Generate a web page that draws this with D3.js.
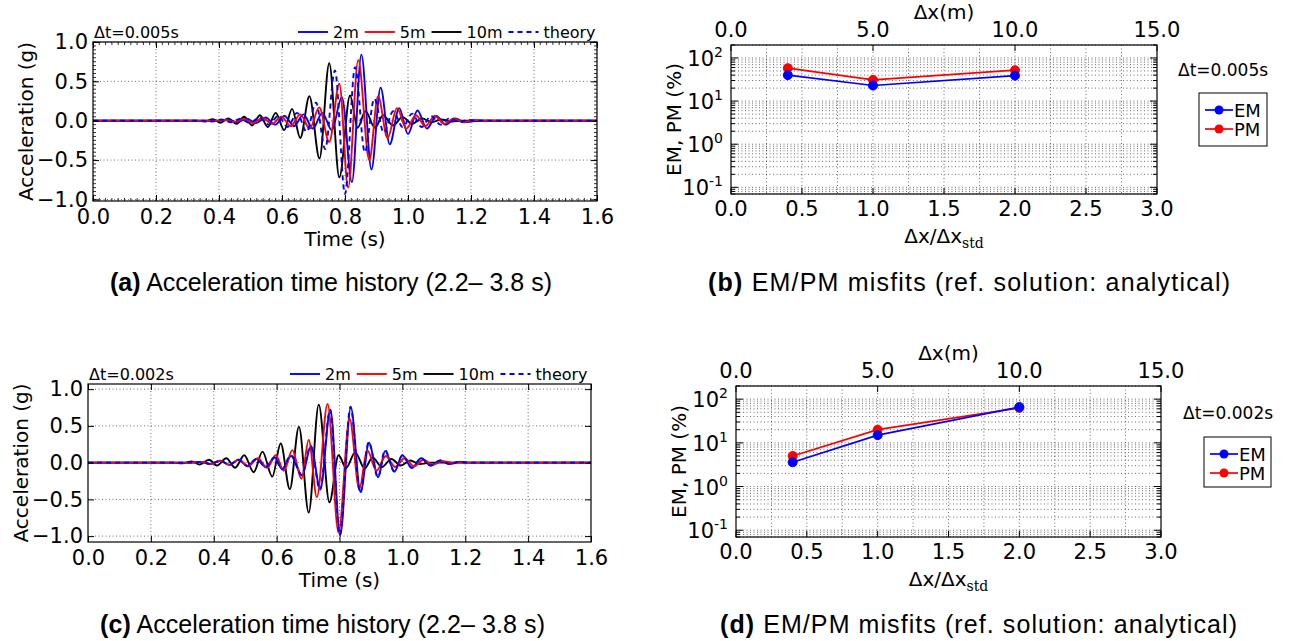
<!DOCTYPE html>
<html><head><meta charset="utf-8">
<script src="https://cdn.jsdelivr.net/npm/d3@7"></script>
<style>
body{margin:0;background:#fff;}
svg{display:block;}
text{font-family:"DejaVu Sans",sans-serif;fill:#000;}
</style></head><body>
<svg id="fig" width="1296" height="641"></svg>
<script>
// ---------------- DATA ----------------
const timeTicks = [0.0,0.2,0.4,0.6,0.8,1.0,1.2,1.4,1.6];
const accTicks = [-1.0,-0.5,0.0,0.5,1.0];
const seriesNames = ["2m","5m","10m","theory"];
const ratioTicks = [0.0,0.5,1.0,1.5,2.0,2.5,3.0];
const dxTicks = [0.0,5.0,10.0,15.0];
const logTicks = [0.1,1,10,100];
const dxRatio = [0.4,1.0,2.0];

// (a) dt = 0.005 s : [time (s), acceleration (g)] extrema
const a2m = [[0,0],[0.40,0],[0.428,0.015],[0.458,-0.02],[0.488,0.025],[0.518,-0.03],[0.548,0.04],[0.578,-0.05],[0.608,0.06],[0.638,-0.07],[0.668,0.08],[0.698,-0.1],[0.728,0.1],[0.758,-0.12],[0.79,0.3],[0.822,-0.78],[0.852,0.84],[0.884,-0.62],[0.913,0.42],[0.942,-0.3],[0.972,0.16],[1.0,-0.17],[1.03,0.13],[1.06,-0.1],[1.09,0.06],[1.12,-0.05],[1.15,0.03],[1.18,-0.02],[1.22,0],[1.6,0]];
const a5m = [[0,0],[0.39,0],[0.418,0.01],[0.448,-0.015],[0.478,0.02],[0.508,-0.03],[0.538,0.035],[0.568,-0.04],[0.598,0.05],[0.628,-0.07],[0.658,0.08],[0.688,-0.1],[0.718,0.17],[0.75,-0.27],[0.782,0.47],[0.81,-0.85],[0.842,0.77],[0.877,-0.5],[0.905,0.31],[0.935,-0.22],[0.965,0.16],[0.995,-0.1],[1.025,0.07],[1.055,-0.07],[1.085,0.06],[1.115,-0.04],[1.145,0.03],[1.175,-0.02],[1.205,0.01],[1.24,0],[1.6,0]];
const a10m = [[0,0],[0.33,0],[0.355,-0.01],[0.38,0.02],[0.405,-0.025],[0.43,0.03],[0.455,-0.04],[0.48,0.05],[0.505,-0.06],[0.53,0.07],[0.555,-0.08],[0.58,0.1],[0.607,-0.12],[0.632,0.15],[0.658,-0.22],[0.687,0.31],[0.719,-0.48],[0.75,0.73],[0.782,-0.72],[0.816,0.32],[0.84,-0.09],[0.865,0.12],[0.895,-0.09],[0.921,0.07],[0.952,-0.06],[0.983,0.045],[1.013,-0.04],[1.045,0.03],[1.075,-0.02],[1.105,0.015],[1.14,-0.01],[1.17,0],[1.6,0]];
const aTheory = [[0,0],[0.35,0],[0.378,-0.01],[0.408,0.015],[0.438,-0.02],[0.468,0.025],[0.498,-0.03],[0.528,0.04],[0.558,-0.05],[0.588,0.06],[0.618,-0.08],[0.648,0.1],[0.678,-0.14],[0.708,0.23],[0.737,-0.36],[0.768,0.64],[0.8,-0.93],[0.832,0.68],[0.863,-0.4],[0.893,0.28],[0.923,-0.15],[0.953,0.12],[0.983,-0.08],[1.013,0.09],[1.043,-0.08],[1.073,0.06],[1.103,-0.05],[1.133,0.035],[1.163,-0.02],[1.19,0.01],[1.22,0],[1.6,0]];

// (c) dt = 0.002 s
const c2m = [[0,0],[0.33,0],[0.36,0.01],[0.39,-0.02],[0.42,0.025],[0.45,-0.03],[0.478,0.04],[0.507,-0.045],[0.536,0.05],[0.565,-0.06],[0.594,0.07],[0.618,-0.09],[0.646,0.09],[0.681,-0.17],[0.709,0.22],[0.739,-0.36],[0.771,0.72],[0.802,-0.99],[0.836,0.75],[0.867,-0.4],[0.894,0.27],[0.923,-0.2],[0.945,0.16],[0.975,-0.12],[1.0,0.1],[1.03,-0.07],[1.06,0.06],[1.09,-0.04],[1.12,0.03],[1.15,-0.02],[1.18,0.01],[1.21,0],[1.6,0]];
const c5m = [[0,0],[0.33,0],[0.36,0.01],[0.39,-0.02],[0.42,0.025],[0.45,-0.03],[0.48,0.04],[0.51,-0.05],[0.54,0.06],[0.57,-0.07],[0.597,0.1],[0.623,-0.11],[0.65,0.17],[0.679,-0.22],[0.702,0.31],[0.728,-0.47],[0.762,0.8],[0.797,-0.95],[0.832,0.6],[0.863,-0.36],[0.888,0.17],[0.918,-0.11],[0.947,0.09],[0.977,-0.06],[1.007,0.06],[1.037,-0.05],[1.067,0.04],[1.097,-0.03],[1.127,0.02],[1.16,0],[1.6,0]];
const c10m = [[0,0],[0.27,0],[0.3,-0.01],[0.33,0.015],[0.355,-0.025],[0.385,0.04],[0.41,-0.04],[0.44,0.06],[0.468,-0.07],[0.497,0.1],[0.527,-0.13],[0.555,0.15],[0.586,-0.19],[0.613,0.26],[0.642,-0.36],[0.671,0.49],[0.702,-0.68],[0.734,0.79],[0.768,-0.54],[0.797,0.1],[0.821,-0.07],[0.85,0.14],[0.88,-0.08],[0.905,0.07],[0.935,-0.06],[0.965,0.05],[0.995,-0.04],[1.025,0.03],[1.055,-0.02],[1.09,0],[1.6,0]];
const cTheory = [[0,0],[0.33,0],[0.36,0.01],[0.39,-0.02],[0.42,0.025],[0.45,-0.03],[0.478,0.04],[0.507,-0.045],[0.536,0.05],[0.565,-0.06],[0.593,0.07],[0.617,-0.09],[0.645,0.1],[0.68,-0.17],[0.708,0.23],[0.738,-0.37],[0.77,0.72],[0.801,-0.98],[0.835,0.76],[0.866,-0.41],[0.893,0.28],[0.922,-0.2],[0.945,0.17],[0.974,-0.12],[1.0,0.1],[1.03,-0.07],[1.06,0.06],[1.09,-0.04],[1.12,0.03],[1.15,-0.02],[1.18,0.01],[1.21,0],[1.6,0]];

// (b) dt = 0.005 s misfits (%)
const bEM = [40, 23, 39];
const bPM = [58, 31, 52];
// (d) dt = 0.002 s misfits (%)
const dEM = [3.6, 15, 66];
const dPM = [5.0, 20, 63];

// ---------------- DRAW ----------------
const svg = d3.select("#fig");
const BLUE = "#0000ff", RED = "#ff0000", BLACK = "#000000";

function dotted(sel){ return sel.attr("stroke","#000").attr("stroke-width",0.8).attr("stroke-dasharray","1,2.5").attr("opacity",0.7); }

function timePanel(box, ydom, data, dtText, legendX, minor){
  const g = svg.append("g");
  const x = d3.scaleLinear().domain([0,1.6]).range([box.x0,box.x1]);
  const y = d3.scaleLinear().domain(ydom).range([box.y1,box.y0]);
  timeTicks.forEach(t=>{ if(t>0 && t<1.6) dotted(g.append("line").attr("x1",x(t)).attr("x2",x(t)).attr("y1",box.y0).attr("y2",box.y1)); });
  accTicks.forEach(v=>{ dotted(g.append("line").attr("x1",box.x0).attr("x2",box.x1).attr("y1",y(v)).attr("y2",y(v))); });
  const line = d3.line().x(d=>x(d[0])).y(d=>y(d[1])).curve(d3.curveMonotoneX);
  const styles = [{c:BLUE,d:null},{c:RED,d:null},{c:BLACK,d:null},{c:BLUE,d:"5,4"}];
  const clipId = "clip"+Math.round(box.y0);
  svg.append("clipPath").attr("id",clipId).append("rect").attr("x",box.x0).attr("y",box.y0).attr("width",box.x1-box.x0).attr("height",box.y1-box.y0);
  const lg = g.append("g").attr("clip-path","url(#"+clipId+")");
  [2,0,1,3].forEach(i=>{
    lg.append("path").attr("d",line(data[i])).attr("fill","none").attr("stroke",styles[i].c).attr("stroke-width",1.9)
      .attr("stroke-dasharray",styles[i].d);
  });
  if(minor){
    const mt = g.append("g").attr("stroke","#000").attr("stroke-width",0.8);
    d3.range(0,1.6001,0.02).forEach(t=>{
      mt.append("line").attr("x1",x(t)).attr("x2",x(t)).attr("y1",box.y1).attr("y2",box.y1-3);
      mt.append("line").attr("x1",x(t)).attr("x2",x(t)).attr("y1",box.y0).attr("y2",box.y0+3);
    });
    d3.range(-1.0,1.0001,0.05).forEach(v=>{
      mt.append("line").attr("x1",box.x0).attr("x2",box.x0+3).attr("y1",y(v)).attr("y2",y(v));
      mt.append("line").attr("x1",box.x1).attr("x2",box.x1-3).attr("y1",y(v)).attr("y2",y(v));
    });
  }
  const ax = g.append("g");
  ax.append("g").attr("transform",`translate(0,${box.y1})`).call(d3.axisBottom(x).tickValues(timeTicks).tickFormat(d3.format(".1f")).tickSizeInner(-6).tickSizeOuter(0).tickPadding(8));
  ax.append("g").attr("transform",`translate(0,${box.y0})`).call(d3.axisTop(x).tickValues(timeTicks).tickFormat("").tickSizeInner(-6).tickSizeOuter(0));
  ax.append("g").attr("transform",`translate(${box.x0},0)`).call(d3.axisLeft(y).tickValues(accTicks).tickFormat(d=>d3.format(".1f")(d).replace("-","\u2212")).tickSizeInner(-6).tickSizeOuter(0).tickPadding(5));
  ax.append("g").attr("transform",`translate(${box.x1},0)`).call(d3.axisRight(y).tickValues(accTicks).tickFormat("").tickSizeInner(-6).tickSizeOuter(0));
  ax.selectAll("text").style("font-size","21px").style("font-family","DejaVu Sans");
  ax.selectAll(".domain").remove();
  ax.selectAll("line").attr("stroke","#000");
  g.append("rect").attr("x",box.x0).attr("y",box.y0).attr("width",box.x1-box.x0).attr("height",box.y1-box.y0).attr("fill","none").attr("stroke","#000").attr("stroke-width",1.2);
  g.append("text").attr("x",(box.x0+box.x1)/2).attr("y",box.y1+45).attr("text-anchor","middle").style("font-size","20px").text("Time (s)");
  g.append("text").attr("transform",`translate(${box.x0-60},${(box.y0+box.y1)/2}) rotate(-90)`).attr("text-anchor","middle").style("font-size","20px").text("Acceleration (g)");
  g.append("text").attr("x",box.x0+1).attr("y",box.y0-4).style("font-size","16px").text(dtText);
  let lx = legendX;
  const ly = box.y0-10;
  seriesNames.forEach((n,i)=>{
    g.append("line").attr("x1",lx).attr("x2",lx+30).attr("y1",ly).attr("y2",ly).attr("stroke",styles[i].c).attr("stroke-width",1.9).attr("stroke-dasharray",styles[i].d);
    const t = g.append("text").attr("x",lx+35).attr("y",ly+6).style("font-size","16px").text(n);
    lx += 35 + t.node().getComputedTextLength() + 6;
  });
}

function logPanel(box, em, pm, dtText, legBox, dtPos){
  const g = svg.append("g");
  const x = d3.scaleLinear().domain([0,3]).range([box.x0,box.x1]);
  const xm = d3.scaleLinear().domain([0,15]).range([box.x0,box.x1]);
  const y = d3.scaleLog().domain([0.07,200]).range([box.y1,box.y0]);
  for(let v=0.25; v<3; v+=0.25) dotted(g.append("line").attr("x1",x(v)).attr("x2",x(v)).attr("y1",box.y0).attr("y2",box.y1));
  const minors=[];
  for(let k=-2;k<=2;k++) for(let m=1;m<=9;m++){ const v=m*Math.pow(10,k); if(v>=0.07 && v<=200) minors.push(v); }
  minors.forEach(v=>dotted(g.append("line").attr("x1",box.x0).attr("x2",box.x1).attr("y1",y(v)).attr("y2",y(v))));
  minors.forEach(v=>{
    const L = logTicks.includes(v)?7:4;
    g.append("line").attr("x1",box.x0).attr("x2",box.x0+L).attr("y1",y(v)).attr("y2",y(v)).attr("stroke","#000");
    g.append("line").attr("x1",box.x1).attr("x2",box.x1-L).attr("y1",y(v)).attr("y2",y(v)).attr("stroke","#000");
  });
  ratioTicks.forEach(v=>{
    g.append("line").attr("x1",x(v)).attr("x2",x(v)).attr("y1",box.y1).attr("y2",box.y1-6).attr("stroke","#000");
    g.append("text").attr("x",x(v)).attr("y",box.y1+22).attr("text-anchor","middle").style("font-size","21px").text(d3.format(".1f")(v));
  });
  dxTicks.forEach(v=>{
    g.append("line").attr("x1",xm(v)).attr("x2",xm(v)).attr("y1",box.y0).attr("y2",box.y0+6).attr("stroke","#000");
    g.append("text").attr("x",xm(v)).attr("y",box.y0-8).attr("text-anchor","middle").style("font-size","21px").text(d3.format(".1f")(v));
  });
  logTicks.forEach(v=>{
    const e = Math.round(Math.log10(v));
    const t = g.append("text").attr("x",box.x0-8).attr("y",y(v)+8).attr("text-anchor","end").style("font-size","21px");
    t.append("tspan").text("10");
    t.append("tspan").attr("dy",-9).style("font-size","14px").text(e<0?"-"+(-e):String(e));
  });
  g.append("rect").attr("x",box.x0).attr("y",box.y0).attr("width",box.x1-box.x0).attr("height",box.y1-box.y0).attr("fill","none").attr("stroke","#000").attr("stroke-width",1.2);
  const mk = (vals,col)=>{
    const pts = dxRatio.map((r,i)=>[r,vals[i]]);
    g.append("path").attr("d",d3.line().x(d=>x(d[0])).y(d=>y(d[1]))(pts)).attr("fill","none").attr("stroke",col).attr("stroke-width",1.7);
    pts.forEach(p=>g.append("circle").attr("cx",x(p[0])).attr("cy",y(p[1])).attr("r",4.5).attr("fill",col).attr("stroke",col));
  };
  mk(pm,RED); mk(em,BLUE);
  g.append("text").attr("transform",`translate(${box.x0-50},${(box.y0+box.y1)/2}) rotate(-90)`).attr("text-anchor","middle").style("font-size","20px").text("EM, PM (%)");
  g.append("text").attr("x",(box.x0+box.x1)/2).attr("y",box.y0-26).attr("text-anchor","middle").style("font-size","20px").text("\u0394x(m)");
  const xl = g.append("text").attr("x",(box.x0+box.x1)/2).attr("y",box.y1+49).attr("text-anchor","middle").style("font-size","20px");
  xl.append("tspan").text("\u0394x/\u0394x");
  xl.append("tspan").attr("dy",5).style("font-family","DejaVu Serif").style("font-size","14px").text("std");
  g.append("text").attr("x",dtPos[0]).attr("y",dtPos[1]).style("font-size","17px").text(dtText);
  g.append("rect").attr("x",legBox.x).attr("y",legBox.y).attr("width",legBox.w).attr("height",legBox.h).attr("fill","#fff").attr("stroke","#000").attr("stroke-width",1);
  [["EM",BLUE],["PM",RED]].forEach((e,i)=>{
    const yy = legBox.y+17+i*19;
    g.append("line").attr("x1",legBox.x+6).attr("x2",legBox.x+34).attr("y1",yy).attr("y2",yy).attr("stroke",e[1]).attr("stroke-width",1.7);
    g.append("circle").attr("cx",legBox.x+20).attr("cy",yy).attr("r",4.5).attr("fill",e[1]);
    g.append("text").attr("x",legBox.x+35).attr("y",yy+7).style("font-size","18px").text(e[0]);
  });
}

timePanel({x0:93,x1:597,y0:42,y1:201},[-1.02,1.0],[a2m,a5m,a10m,aTheory],"\u0394t=0.005s",298,true);
timePanel({x0:88,x1:591,y0:384,y1:542},[-1.08,1.07],[c2m,c5m,c10m,cTheory],"\u0394t=0.002s",290,false);
logPanel({x0:731,x1:1157,y0:45,y1:194},bEM,bPM,"\u0394t=0.005s",{x:1199,y:93,w:68,h:53},[1178,76]);
logPanel({x0:736,x1:1161,y0:386,y1:537},dEM,dPM,"\u0394t=0.002s",{x:1204,y:437,w:67,h:50},[1183,419]);

function caption(x,y,lab,txt,width){
  const t = svg.append("text").attr("x",x).attr("y",y).style("font-family","Liberation Sans").style("font-size","25px")
    .attr("textLength",width).attr("lengthAdjust","spacing");
  t.append("tspan").style("font-weight","bold").text(lab);
  t.append("tspan").text(" "+txt);
}
caption(110,291,"(a)","Acceleration time history (2.2\u2013 3.8 s)",442);
caption(708,291,"(b)","EM/PM misfits (ref. solution: analytical)",522);
caption(100,633,"(c)","Acceleration time history (2.2\u2013 3.8 s)",445);
caption(720,633,"(d)","EM/PM misfits (ref. solution: analytical)",517);
</script>
</body></html>
